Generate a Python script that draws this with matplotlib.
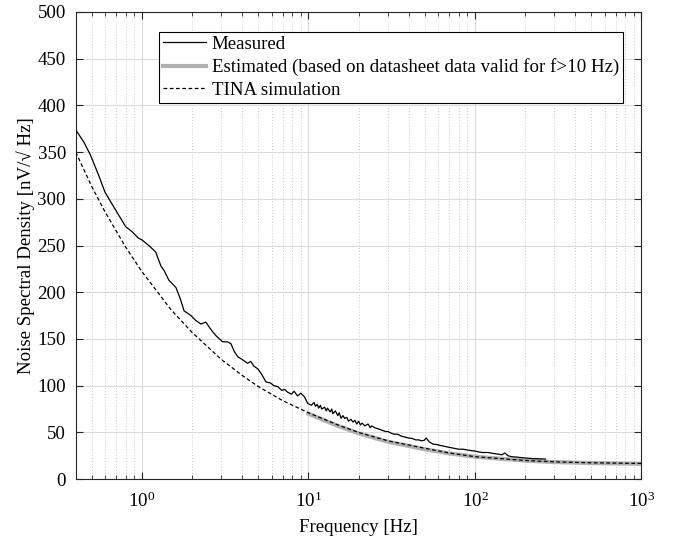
import numpy as np
import matplotlib
matplotlib.use("Agg")
import matplotlib.pyplot as plt
from matplotlib.ticker import LogLocator, NullFormatter, MultipleLocator

plt.rcParams["font.family"] = ["Liberation Serif", "DejaVu Serif"]
plt.rcParams["mathtext.fontset"] = "custom"
plt.rcParams["mathtext.rm"] = "Liberation Serif"
plt.rcParams["mathtext.it"] = "Liberation Serif:italic"
plt.rcParams["font.size"] = 13.6

# Measured noise density
meas_f = [0.40, 0.45, 0.49, 0.55, 0.60, 0.70, 0.80, 0.87, 0.95, 1.00, 1.10, 1.21,
          1.30, 1.36, 1.45, 1.60, 1.70, 1.79, 1.90, 1.97, 2.10, 2.26, 2.42, 2.55,
          2.65, 2.80, 3.05, 3.25, 3.42, 3.60, 3.76, 4.00, 4.31, 4.50, 4.70, 4.96,
          5.20, 5.56, 5.90, 6.20, 6.54, 6.90, 7.20, 7.50, 7.90, 8.20, 8.60, 9.00,
          9.46, 9.90, 10.4, 10.8, 11.0, 11.3, 11.5, 11.8, 12.0, 12.5, 12.8, 13.0,
          13.5, 13.8, 14.0, 14.5, 15.0, 15.3, 15.7, 16.1, 16.5, 17.0, 17.4, 18.0,
          18.5, 19.0, 19.5, 20.0, 20.5, 21.0, 21.8, 22.8, 23.5, 24.0, 25.0, 26.0,
          27.0, 28.0, 29.0, 30.0, 31.5, 33.0, 34.5, 36.0, 38.0, 40.0, 42.0, 44.0,
          46.0, 47.7, 49.5, 51.0, 53.0, 56.0, 59.0, 62.0, 66.0, 70.0, 75.0, 80.0,
          85.0, 91.0, 100, 110, 120, 128, 135, 145, 151, 158, 166, 180, 190, 205,
          220, 240, 265]
meas_v = [374, 360, 347, 325, 307, 287, 270, 265, 258, 256, 250, 243,
          228, 223, 213, 205, 193, 180, 177, 175, 170, 166, 168, 162,
          158, 153, 147, 147, 145, 136, 131, 128, 124, 126, 121, 118,
          113, 104, 103, 100, 99, 95, 96, 93, 91, 94, 89, 92,
          88, 81, 79, 82, 78, 80, 76, 79, 75, 77, 73, 76,
          72, 75, 70, 73, 68, 71, 65, 68, 65, 66, 62, 64,
          61, 63, 59, 62, 58, 60, 57, 59, 55, 57, 55, 54,
          53, 52, 51, 51, 49, 48, 48, 46, 45, 44, 43.5, 42,
          42, 41, 41.5, 44, 40, 37.5, 37, 36, 35, 34, 33, 32,
          32, 31, 30, 28.5, 28.5, 27.5, 27, 26, 28, 25, 24, 23.5, 23, 22.5,
          22, 21.8, 21.5]

# Estimated from datasheet (f > 10 Hz)
est_f = [10, 15, 20, 30, 50, 70, 100, 200, 300, 500, 1000]
est_v = [70, 57, 49, 40, 32, 27.5, 24, 19.8, 18.3, 17.2, 16.4]

# TINA simulation
tina_f = [0.4, 0.5, 0.6, 0.8, 1, 1.5, 2, 3, 4, 5, 7, 10, 15, 20, 30, 50, 70,
          100, 200, 300, 500, 1000]
tina_v = [350, 313, 286, 248, 222, 181, 157, 128, 111, 99, 84, 71, 58, 50, 41,
          33, 28, 24, 20, 18.5, 17.5, 16.8]

fig = plt.figure(figsize=(6.82, 5.42), dpi=100)
ax = fig.add_axes([0.111, 0.116, 0.8296, 0.862])

ax.plot(meas_f, meas_v, color="black", lw=0.9, label="Measured", zorder=4)
ax.plot(est_f, est_v, color="#b0b0b0", lw=3, label="Estimated (based on datasheet data valid for f>10 Hz)", zorder=2)
ax.plot(tina_f, tina_v, color="black", lw=0.9, ls=(0, (3, 2)), label="TINA simulation", zorder=3)

ax.set_xscale("log")
ax.set_xlim(0.4, 1000)
ax.set_ylim(0, 500)
ax.yaxis.set_major_locator(MultipleLocator(50))
ax.xaxis.set_major_locator(LogLocator(base=10, numticks=10))
ax.xaxis.set_minor_locator(LogLocator(base=10, subs=np.arange(2, 10), numticks=20))
ax.xaxis.set_minor_formatter(NullFormatter())

ax.grid(True, which="major", color="#dcdcdc", lw=0.8, ls="-")
ax.grid(True, which="minor", axis="x", color="#c8c8c8", lw=0.7, ls=(0, (1, 2)))
ax.set_axisbelow(True)
ax.tick_params(which="both", direction="in", top=True, right=True, colors="#262626", labelcolor="black")
ax.tick_params(which="major", length=5)
ax.tick_params(axis="x", which="major", pad=9)
ax.tick_params(axis="y", which="major", pad=7)
ax.tick_params(which="minor", length=3)
for s in ax.spines.values():
    s.set_color("#262626")
    s.set_linewidth(0.8)

ax.set_xlabel("Frequency [Hz]", labelpad=6)
ax.set_ylabel("Noise Spectral Density [nV/\u221a Hz]", labelpad=2)

leg = ax.legend(loc="upper right", bbox_to_anchor=(0.967, 0.957), borderaxespad=0,
                fancybox=False, framealpha=1, edgecolor="black", handlelength=2.3,
                handletextpad=0.3, labelspacing=0.28, borderpad=0.2)
leg.get_frame().set_linewidth(0.8)

fig.savefig("out.png", dpi=100)
